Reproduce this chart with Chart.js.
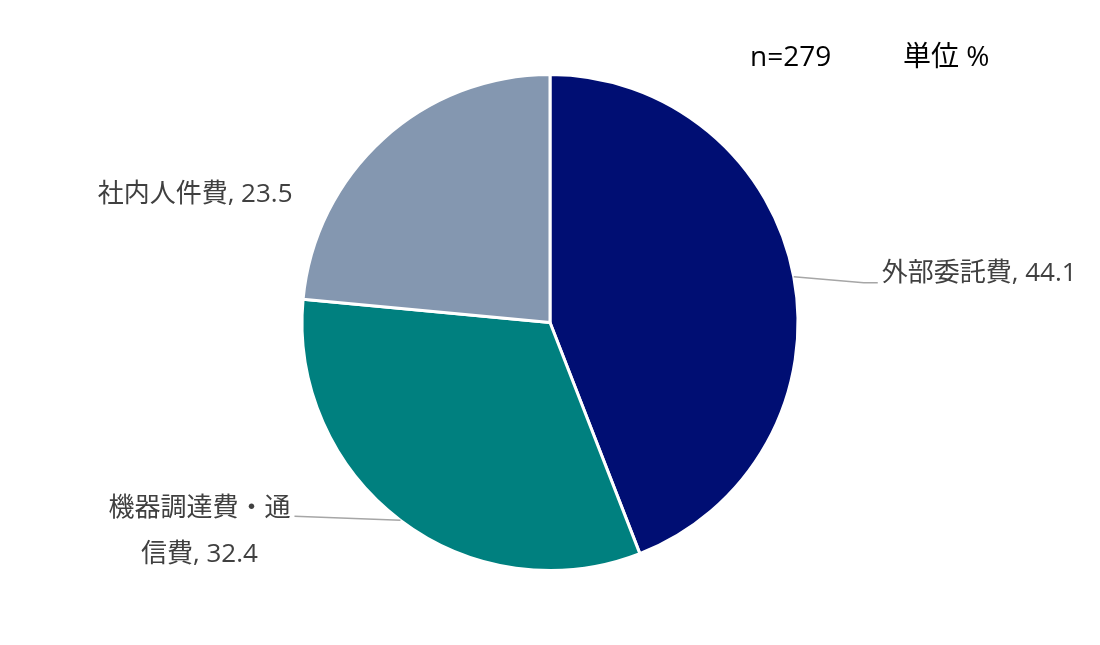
<!DOCTYPE html>
<html>
<head>
<meta charset="utf-8">
<script src="https://cdn.jsdelivr.net/npm/chart.js@4"></script>
<style>
  html, body { margin: 0; padding: 0; background: #fff; }
  #wrap { width: 1100px; height: 645px; position: relative; }
</style>
</head>
<body>
<div id="wrap"><canvas id="myChart"></canvas></div>
<script>
// data
var categories = ['外部委託費', '機器調達費・通信費', '社内人件費'];
var labelLines = [['外部委託費, 44.1'], ['機器調達費・通', '信費, 32.4'], ['社内人件費, 23.5']];
var values = [44.1, 32.4, 23.5];
var colors = ['#000E73', '#00807F', '#8497B0'];
var sampleNote = 'n=279';
var unitNote = '単位 %';

var labelFont = '26px "Open Sans", "Noto Sans CJK JP", sans-serif';

// label placement per slice (relative to the slice's outer mid point)
var labelSpots = [
  { line: [[70, 6], [84, 6]], dx: 88, dy: -3, align: 'left' },
  { line: [[-106, -4]], dx: -201, dy: -12, align: 'center', lineGap: 46 },
  { line: null, dx: -188, dy: 56, align: 'center' }
];

var pieLabels = {
  id: 'pieLabels',
  afterDatasetsDraw: function(chart) {
    var ctx = chart.ctx;
    var meta = chart.getDatasetMeta(0);
    ctx.save();
    meta.data.forEach(function(arc, i) {
      var mid = (arc.startAngle + arc.endAngle) / 2;
      var px = arc.x + Math.cos(mid) * arc.outerRadius;
      var py = arc.y + Math.sin(mid) * arc.outerRadius;
      var spot = labelSpots[i];
      if (spot.line) {
        ctx.beginPath();
        ctx.moveTo(px, py);
        spot.line.forEach(function(p) { ctx.lineTo(px + p[0], py + p[1]); });
        ctx.strokeStyle = '#A6A6A6';
        ctx.lineWidth = 1.5;
        ctx.stroke();
      }
      ctx.font = labelFont;
      ctx.fillStyle = '#404040';
      ctx.textAlign = spot.align;
      ctx.textBaseline = 'middle';
      var lines = labelLines[i];
      lines.forEach(function(t, k) {
        ctx.fillText(t, px + spot.dx, py + spot.dy + k * (spot.lineGap || 0));
      });
    });
    ctx.font = '28px "Open Sans", "Noto Sans CJK JP", sans-serif';
    ctx.fillStyle = '#000';
    ctx.textAlign = 'left';
    ctx.textBaseline = 'middle';
    ctx.fillText(sampleNote, 750, 58);
    ctx.fillText(unitNote, 903, 58);
    ctx.restore();
  }
};

var ctx = document.getElementById('myChart').getContext('2d');
var chart = new Chart(ctx, {
  type: 'pie',
  data: {
    labels: categories,
    datasets: [{
      data: values,
      backgroundColor: colors,
      borderColor: '#ffffff',
      borderWidth: 3
    }]
  },
  options: {
    responsive: true,
    maintainAspectRatio: false,
    animation: false,
    layout: { padding: { top: 73, bottom: 73 } },
    plugins: {
      legend: { display: false },
      tooltip: { enabled: false }
    }
  },
  plugins: [pieLabels]
});
</script>
</body>
</html>
